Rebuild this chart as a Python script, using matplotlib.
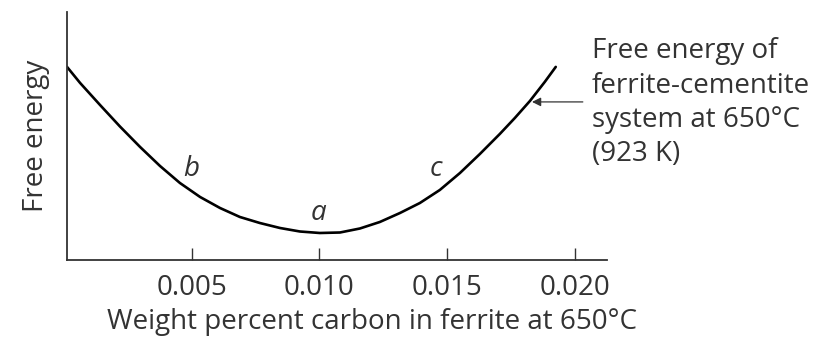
import matplotlib.pyplot as plt

# Free-energy curve of the ferrite-cementite system at 650 C
carbon_wt = [0.00012, 0.00063, 0.00141, 0.00219, 0.00298, 0.00376, 0.00454,
             0.00533, 0.00611, 0.00689, 0.00767, 0.00846, 0.00924, 0.01002,
             0.01081, 0.01159, 0.01237, 0.01316, 0.01394, 0.01472, 0.01551,
             0.01629, 0.01707, 0.01766, 0.01825, 0.01883, 0.01926]
free_energy = [193, 177, 155, 133.5, 113, 94, 77,
               63, 52, 43, 37, 32, 28.5, 27,
               27.5, 31.5, 38, 47, 57, 70, 87,
               106, 126, 142, 159, 178, 193]

ticks = [0.005, 0.010, 0.015, 0.020]
tick_labels = ["0.005", "0.010", "0.015", "0.020"]

# point labels along the curve
point_names = ["b", "a", "c"]
point_x = [0.00497, 0.00995, 0.01457]
point_y = [91, 47, 91]

arrow_tip = (0.01833, 158)
arrow_tail = (0.02032, 158)

plt.rcParams['font.family'] = ['Open Sans', 'DejaVu Sans']
ink = '#333333'
fs = 20

fig = plt.figure(figsize=(8.37, 3.39), dpi=100)
ax = fig.add_axes([0.080, 0.233, 0.645, 0.732])

ax.plot(carbon_wt, free_energy, color='black', linewidth=1.9,
        solid_capstyle='round', solid_joinstyle='round')

for name, px, py in zip(point_names, point_x, point_y):
    ax.text(px, py, name, fontsize=fs, style='italic', color=ink,
            ha='center', va='center')

ax.annotate('', xy=arrow_tip, xytext=arrow_tail,
            arrowprops=dict(arrowstyle='-|>', color=ink, lw=0.9,
                            mutation_scale=13, shrinkA=0, shrinkB=0))
ax.text(0.02067, 157, "Free energy of\nferrite-cementite\nsystem at 650°C\n(923 K)",
        fontsize=fs, color=ink, ha='left', va='center', linespacing=1.3,
        clip_on=False)

ax.set_xlim(0.000117, 0.02126)
ax.set_ylim(0, 248)

ax.set_xticks(ticks)
ax.set_xticklabels(tick_labels)
ax.set_yticks([])
ax.tick_params(axis='x', direction='in', length=8.5, width=1.0, color=ink,
               labelsize=fs, labelcolor=ink, pad=10)

for side in ['top', 'right']:
    ax.spines[side].set_visible(False)
for side in ['left', 'bottom']:
    ax.spines[side].set_color(ink)
    ax.spines[side].set_linewidth(1.3)

ax.set_xlabel("Weight percent carbon in ferrite at 650\u00b0C", fontsize=fs,
              color=ink, labelpad=1)
ax.xaxis.set_label_coords(0.565, -0.195)
ax.set_ylabel("Free energy", fontsize=fs, color=ink, labelpad=12)

fig.savefig('out.png', dpi=100)
